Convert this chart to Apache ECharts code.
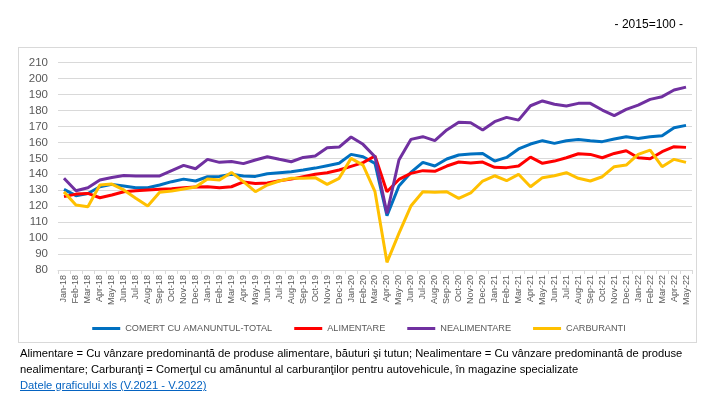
<!DOCTYPE html>
<html><head><meta charset="utf-8">
<script src="https://cdn.jsdelivr.net/npm/echarts@6/dist/echarts.min.js"></script>
<style>
html,body{margin:0;padding:0;background:#fff;}
#wrap{position:relative;width:718px;height:403px;overflow:hidden;}
#chart{position:absolute;left:0;top:0;width:718px;height:403px;}
#box{position:absolute;left:18px;top:47px;width:679px;height:296px;border:1px solid #d9d9d9;box-sizing:border-box;}
#note{position:absolute;left:20px;top:345px;width:700px;font-family:'Liberation Sans',sans-serif;font-size:11.2px;line-height:16px;color:#000;white-space:nowrap;}
#note a{color:#0563C1;text-decoration:underline;}
</style></head>
<body><div id="wrap"><div id="box"></div><div id="chart"></div>
<div id="note">Alimentare = Cu vânzare predominantă de produse alimentare, băuturi şi tutun; Nealimentare = Cu vânzare predominantă de produse<br>nealimentare; Carburanţi = Comerţul cu amănuntul al carburanţilor pentru autovehicule, în magazine specializate<br><a href="#">Datele graficului xls (V.2021 - V.2022)</a></div>
</div>
<script>
const categories = ["Jan-18","Feb-18","Mar-18","Apr-18","May-18","Jun-18","Jul-18","Aug-18","Sep-18","Oct-18","Nov-18","Dec-18",
"Jan-19","Feb-19","Mar-19","Apr-19","May-19","Jun-19","Jul-19","Aug-19","Sep-19","Oct-19","Nov-19","Dec-19",
"Jan-20","Feb-20","Mar-20","Apr-20","May-20","Jun-20","Jul-20","Aug-20","Sep-20","Oct-20","Nov-20","Dec-20",
"Jan-21","Feb-21","Mar-21","Apr-21","May-21","Jun-21","Jul-21","Aug-21","Sep-21","Oct-21","Nov-21","Dec-21",
"Jan-22","Feb-22","Mar-22","Apr-22","May-22"];
const total = [130.6,126.6,128,132.2,133.7,132.7,131.6,131.6,133.3,135.4,137,135.8,138.5,138.7,140,138.9,138.7,140.4,141,141.6,142.7,143.9,145.4,146.9,152.5,151,146.9,114.1,132.7,141.2,147.5,145.2,149.6,152.1,152.8,153.1,148.3,150.6,155.9,159,161.1,159.4,161.1,161.9,161.1,160.5,162.1,163.6,162.5,163.6,164.2,169.2,170.7];
const alimentare = [126,127.6,128,125.3,127,129.1,129.7,130.2,130.6,131,131.6,132,132.2,131.6,132.2,135.2,134.3,134.5,136,137,138.5,140,141,142.7,145,147.3,151.5,129.1,136.8,140.6,142.3,141.9,145.2,147.7,147.1,147.7,144.4,144.2,145.2,150.8,146.9,148.3,150.4,152.9,152.5,150.4,153.1,154.8,150.4,149.8,154.2,157.3,156.9];
const nealimentare = [137.5,129.7,131.6,136.4,138,139.3,139,138.9,139,142.3,145.6,143.5,149.4,147.5,148,146.7,149,151,149.4,147.9,150.6,151.5,156.7,157.1,163.4,158.8,151,115.5,149,161.9,163.6,161.1,167.8,172.6,172.4,167.8,173,175.7,174,183,186,183.9,182.8,184.5,184.5,180.3,176.8,180.7,183.4,187,188.7,192.9,194.7];
const carburanti = [129,120.8,119.7,133.3,133.9,130.2,125,120.1,128.7,129.5,130.8,132,137,136.4,141.2,135.4,129.1,133.3,135.8,137.5,137.5,137.9,133.7,137.5,150,145.8,129.1,84.8,103,120.1,129.1,128.7,129.1,124.9,128.3,135.8,139.1,136,140,132.2,137.9,139.1,141,137.5,135.8,138.5,144.8,145.8,152.5,155.2,144.8,149.4,147.5];
const seriesNames = ["COMERT CU AMANUNTUL-TOTAL","ALIMENTARE","NEALIMENTARE","CARBURANTI"];
const seriesData = [total, alimentare, nealimentare, carburanti];
const colors = ["#0070C0","#FF0000","#7030A0","#FFC000"];
const yMin = 80, yMax = 210, yStep = 10;

const font = "'Liberation Sans',sans-serif";
const chart = echarts.init(document.getElementById('chart'), null, {renderer:'canvas'});
chart.setOption({
  animation:false,
  color: colors,
  title:{text:"- 2015=100 -", right:30, top:14, textStyle:{fontFamily:font, fontSize:12, fontWeight:'normal', color:'#000'}},
  grid:{left:58, right:26, top:62.7, bottom:133},
  legend:{
    data:seriesNames, top:319, left:'center', itemWidth:28, itemHeight:3, itemGap:22, icon:'rect',
    textStyle:{fontFamily:font, fontSize:9.2, color:'#595959'}
  },
  xAxis:{
    type:'category', data:categories, boundaryGap:true,
    axisLine:{lineStyle:{color:'#d9d9d9'}},
    axisTick:{show:true, length:4, lineStyle:{color:'#d9d9d9'}},
    axisLabel:{rotate:90, interval:0, fontFamily:font, fontSize:9, color:'#595959', margin:5}
  },
  yAxis:{
    type:'value', min:yMin, max:yMax, interval:yStep,
    axisLine:{show:false}, axisTick:{show:false},
    splitLine:{lineStyle:{color:'#d9d9d9'}},
    axisLabel:{fontFamily:font, fontSize:11.5, color:'#595959', margin:10}
  },
  series: seriesNames.map((n,i)=>({
    name:n, type:'line', data:seriesData[i], symbol:'none', smooth:false,
    lineStyle:{width:3, color:colors[i]}, itemStyle:{color:colors[i]}
  }))
});
</script></body></html>
